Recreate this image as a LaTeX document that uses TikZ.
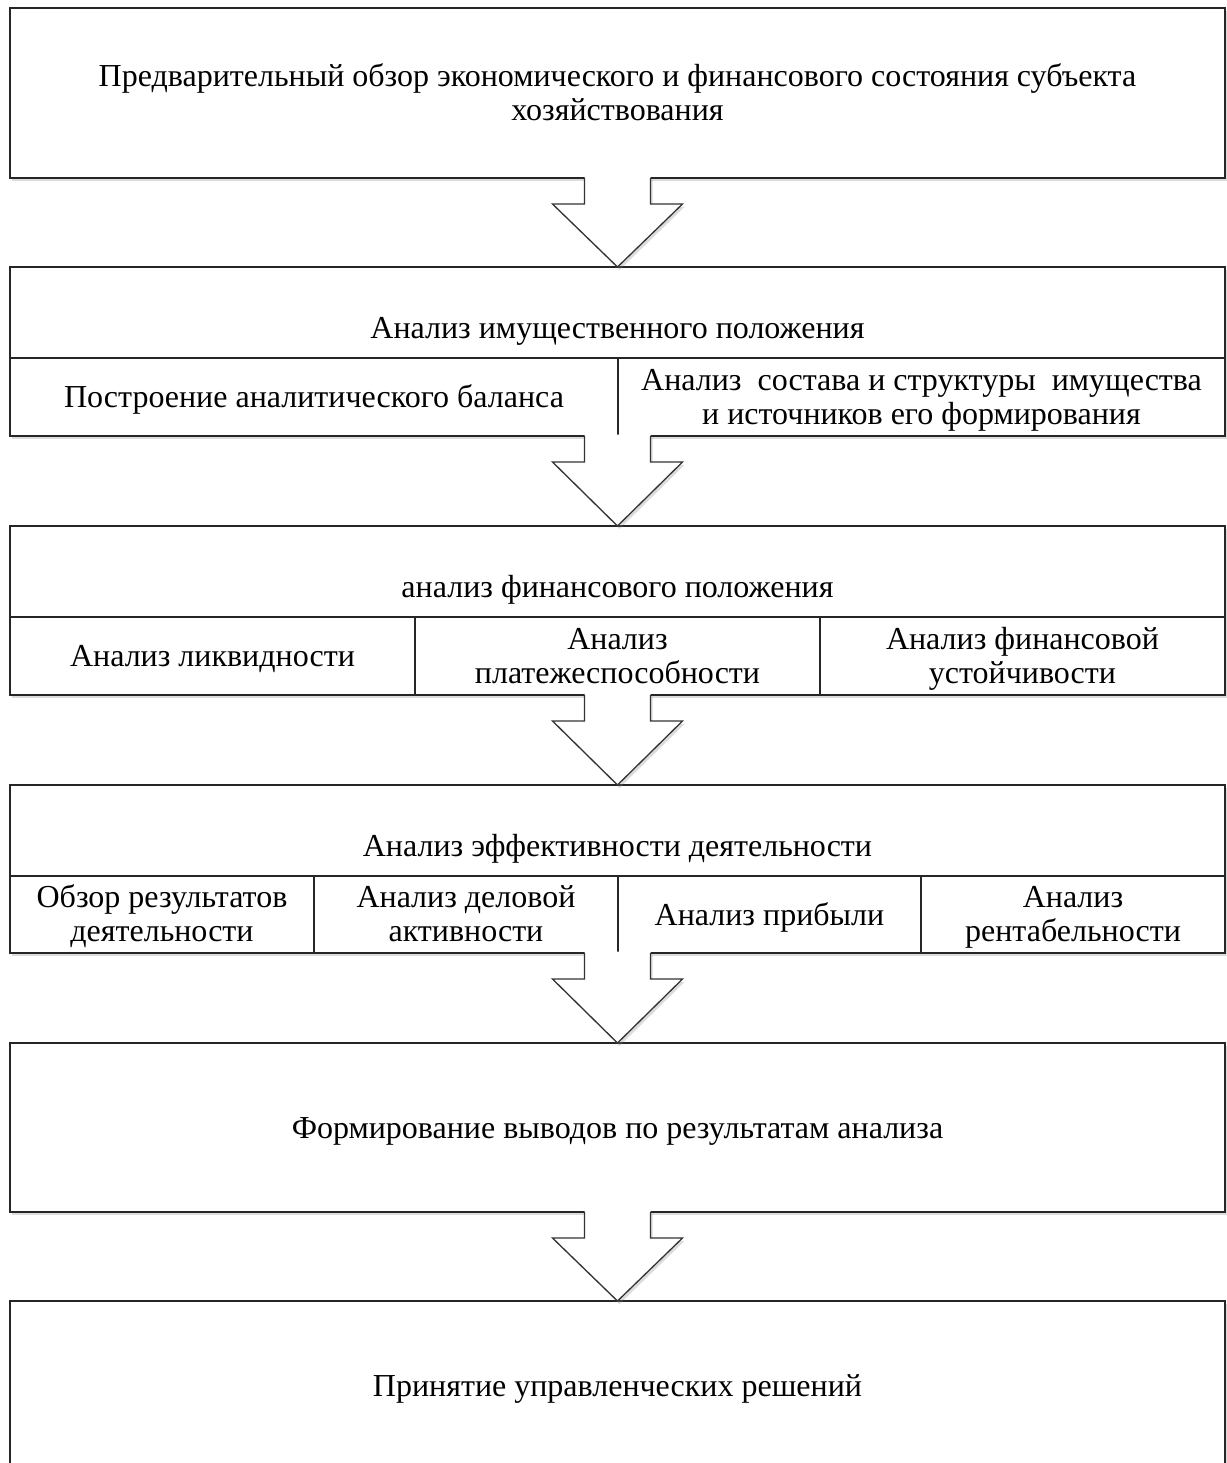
\documentclass[tikz,border=0pt]{standalone}
\usepackage{fontspec}
\setmainfont{Liberation Serif}
\usetikzlibrary{shadows,calc}
\newcommand{\fstrut}{\rule{0pt}{28.5pt}}
\newcommand{\lstrut}{\rule[-8pt]{0pt}{0pt}}
\tikzset{
  x=1pt, y=-1pt,
  shad/.style={drop shadow={opacity=0.28, shadow xshift=2pt, shadow yshift=-3pt}},
  box/.style={draw=black!85, line width=1.3pt, fill=white, inner sep=0pt, outer sep=0pt,
    align=center, font=\fontsize{32}{34}\selectfont, shad},
  one/.style={box, text height=29.5pt, text depth=8pt},
  hdr/.style={box, text height=51pt, text depth=0pt},
  arrline/.style={draw=black!80, line width=1.3pt, line join=miter},
}
\newcommand{\blockarrow}[2]{%
  \fill[white, shad] ($(#1)+(-33,-1.5)$) -- ($(#1)+(-33,26)$) -- ($(#1)+(-65,26)$) -- (#2)
    -- ($(#1)+(65,26)$) -- ($(#1)+(33,26)$) -- ($(#1)+(33,-1.5)$) -- cycle;
  \draw[arrline] ($(#1)+(-33,0)$) -- ($(#1)+(-33,26)$) -- ($(#1)+(-65,26)$) -- (#2)
    -- ($(#1)+(65,26)$) -- ($(#1)+(33,26)$) -- ($(#1)+(33,0)$);
}
\begin{document}
\begin{tikzpicture}
\useasboundingbox (0,0) rectangle (1226,1463);
% Box 1
\node[box, minimum width=1215pt, minimum height=170pt] (b1) at (617.5,93)
  {\fstrut Предварительный обзор экономического и финансового состояния субъекта\\хозяйствования\lstrut};
% Box 2
\node[hdr, minimum width=1215pt, minimum height=91pt] (h2) at (617.5,312.5)
  {Анализ имущественного положения};
\node[one, minimum width=608pt, minimum height=78pt] (c21) at (314,397)
  {Построение аналитического баланса};
\node[box, minimum width=607pt, minimum height=78pt] (c22) at (921.5,397)
  {\fstrut Анализ\ \ состава и структуры\ \ имущества\\и источников его формирования\lstrut};
% Box 3
\node[hdr, minimum width=1215pt, minimum height=91pt] (h3) at (617.5,571.5)
  {анализ финансового положения};
\node[one, minimum width=405pt, minimum height=78pt] (c31) at (212.5,656)
  {Анализ ликвидности};
\node[box, minimum width=405pt, minimum height=78pt] (c32) at (617.5,656)
  {\fstrut Анализ\\платежеспособности\lstrut};
\node[box, minimum width=405pt, minimum height=78pt] (c33) at (1022.5,656)
  {\fstrut Анализ финансовой\\устойчивости\lstrut};
% Box 4
\node[hdr, minimum width=1215pt, minimum height=91pt] (h4) at (617.5,830.5)
  {Анализ эффективности деятельности};
\node[box, minimum width=304pt, minimum height=77pt] (c41) at (162,914.5)
  {\fstrut Обзор результатов\\деятельности\lstrut};
\node[box, minimum width=304pt, minimum height=77pt] (c42) at (466,914.5)
  {\fstrut Анализ деловой\\активности\lstrut};
\node[one, minimum width=303pt, minimum height=77pt] (c43) at (769.5,914.5)
  {Анализ прибыли};
\node[box, minimum width=304pt, minimum height=77pt] (c44) at (1073,914.5)
  {\fstrut Анализ\\рентабельности\lstrut};
% Box 5
\node[one, minimum width=1215pt, minimum height=169pt] (b5) at (617.5,1127.5)
  {Формирование выводов по результатам анализа};
% Box 6
\node[one, minimum width=1215pt, minimum height=169pt] (b6) at (617.5,1385.5)
  {Принятие управленческих решений};
% Arrows
\blockarrow{b1.south}{h2.north}
\blockarrow{h2.center |- c21.south}{h3.north}
\blockarrow{h3.center |- c31.south}{h4.north}
\blockarrow{h4.center |- c41.south}{b5.north}
\blockarrow{b5.south}{b6.north}
\end{tikzpicture}
\end{document}
